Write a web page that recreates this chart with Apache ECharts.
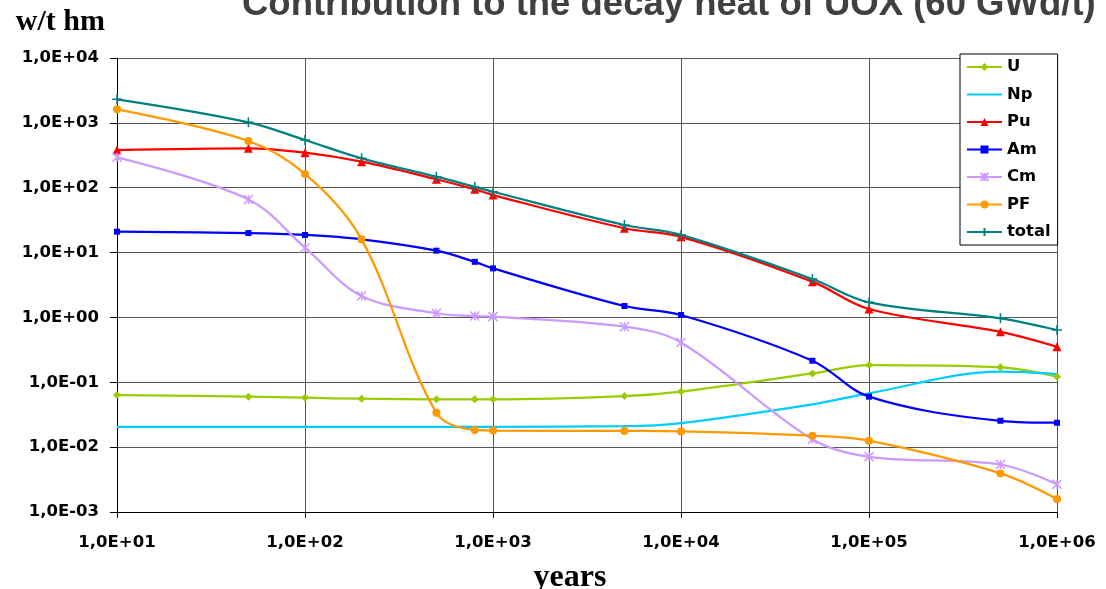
<!DOCTYPE html>
<html>
<head>
<meta charset="utf-8">
<script src="https://cdn.jsdelivr.net/npm/echarts@6.0.0/dist/echarts.min.js"></script>
<style>
  html, body { margin: 0; padding: 0; background: #fff; }
  #chart { width: 1106px; height: 589px; }
</style>
</head>
<body>
<div id="chart"></div>
<script>
// ---- data ----
const years = [10, 50, 100, 200, 500, 800, 1000, 5000, 10000, 50000, 100000, 500000, 1000000];
const U     = [0.0636, 0.060, 0.0578, 0.0558, 0.0546, 0.0546, 0.0546, 0.0614, 0.072, 0.137, 0.184, 0.170, 0.122];
const Np    = [0.0205, 0.0205, 0.0205, 0.0205, 0.0205, 0.0205, 0.0206, 0.021, 0.0235, 0.0457, 0.0676, 0.146, 0.134];
const Pu    = [381, 405, 347, 252, 135, 94.5, 77, 23.7, 17.5, 3.56, 1.35, 0.60, 0.353];
const Am    = [21.0, 20.0, 18.7, 16.0, 10.7, 7.2, 5.7, 1.50, 1.09, 0.215, 0.060, 0.0255, 0.0238];
const Cm    = [294, 66, 11.9, 2.14, 1.16, 1.05, 1.03, 0.72, 0.41, 0.0132, 0.0071, 0.0054, 0.00267];
const PF    = [1618, 525, 163, 16.0, 0.0339, 0.0184, 0.0180, 0.0178, 0.0175, 0.0150, 0.01256, 0.00394, 0.00158];
const total = [2307, 1020, 545, 284, 148, 103, 86.7, 26.6, 18.7, 3.91, 1.71, 0.97, 0.64];

const xTickLabels = ['1,0E+01', '1,0E+02', '1,0E+03', '1,0E+04', '1,0E+05', '1,0E+06'];
const yTickLabels = ['1,0E-03', '1,0E-02', '1,0E-01', '1,0E+00', '1,0E+01', '1,0E+02', '1,0E+03', '1,0E+04'];

const titleText = 'Contribution to the decay heat of UOX (60 GWd/t)';
const yName = 'w/t hm';
const xName = 'years';

const seriesDefs = [
  { name: 'U',     data: U,     color: '#99CC00', symbol: 'diamond',  size: 8 },
  { name: 'Np',    data: Np,    color: '#00CCFF', symbol: 'none',     size: 0 },
  { name: 'Pu',    data: Pu,    color: '#FF0000', symbol: 'triangle', size: 9 },
  { name: 'Am',    data: Am,    color: '#0000FF', symbol: 'rect',     size: 6 },
  { name: 'Cm',    data: Cm,    color: '#CC99FF', symbol: 'path://M0,0L10,10M10,0L0,10M5,0L5,10', size: 9, stroke: true },
  { name: 'PF',    data: PF,    color: '#FF9900', symbol: 'circle',   size: 8 },
  { name: 'total', data: total, color: '#008080', symbol: 'path://M5,0L5,10M0,5L10,5', size: 10, stroke: true }
];

const tickFont = { fontFamily: 'DejaVu Sans', fontWeight: 'bold', fontSize: 16.5, color: '#000' };

const chart = echarts.init(document.getElementById('chart'), null, { renderer: 'canvas' });

chart.setOption({
  animation: false,
  backgroundColor: '#fff',
  title: {
    text: titleText,
    left: 242,
    top: -14,
    padding: 0,
    textStyle: { fontFamily: 'Liberation Sans', fontWeight: 'bold', fontSize: 36.5, color: '#404040' }
  },
  legend: {
    orient: 'vertical',
    left: 960,
    top: 54,
    backgroundColor: '#fff',
    borderColor: '#000',
    borderWidth: 1,
    padding: [5, 7, 5, 6],
    itemWidth: 35,
    itemHeight: 10,
    itemGap: 11.5,
    textStyle: { fontFamily: 'DejaVu Sans', fontWeight: 'bold', fontSize: 16.4, color: '#000', lineHeight: 16 },
    data: seriesDefs.map(s => s.symbol === 'none'
      ? { name: s.name, itemStyle: { opacity: 0 } }
      : s.name)
  },
  grid: { left: 117, right: 49, top: 58, bottom: 77, containLabel: false, outerBoundsMode: 'none' },
  xAxis: {
    type: 'log',
    logBase: 10,
    min: 10,
    max: 1000000,
    splitNumber: 5,
    name: xName,
    nameLocation: 'middle',
    nameGap: 50,
    nameTextStyle: { fontFamily: 'Liberation Serif', fontWeight: 'bold', fontSize: 32, color: '#000', padding: [0, 34, 0, 0] },
    axisLine: { show: true, lineStyle: { color: '#000', width: 1 } },
    axisTick: { show: true, length: 6, lineStyle: { color: '#000' } },
    axisLabel: Object.assign({ margin: 22, formatter: v => xTickLabels[Math.round(Math.log10(v)) - 1] }, tickFont),
    splitLine: { show: true, lineStyle: { color: '#555', width: 1 } },
    minorTick: { show: false }
  },
  yAxis: {
    type: 'log',
    logBase: 10,
    min: 0.001,
    max: 10000,
    splitNumber: 7,
    name: yName,
    nameLocation: 'end',
    nameGap: 21,
    nameTextStyle: { fontFamily: 'Liberation Serif', fontWeight: 'bold', fontSize: 30, color: '#000', align: 'right', padding: [0, 12, 0, 0] },
    axisLine: { show: true, lineStyle: { color: '#000', width: 1 } },
    axisTick: { show: true, length: 7, lineStyle: { color: '#000' } },
    axisLabel: Object.assign({ margin: 18, padding: [5, 0, 0, 0], formatter: v => yTickLabels[Math.round(Math.log10(v)) + 3] }, tickFont),
    splitLine: { show: true, lineStyle: { color: '#555', width: 1 } }
  },
  series: seriesDefs.map(s => ({
    name: s.name,
    type: 'line',
    data: years.map((x, i) => [x, s.data[i]]),
    smooth: 0.35,
    symbol: s.symbol,
    symbolSize: s.size,
    showSymbol: s.symbol !== 'none',
    lineStyle: { color: s.color, width: 2.25 },
    itemStyle: s.stroke
      ? { color: s.color, borderColor: s.color, borderWidth: 1.5 }
      : { color: s.color, borderWidth: 0 },
    emphasis: { disabled: true }
  }))
});
</script>
</body>
</html>
